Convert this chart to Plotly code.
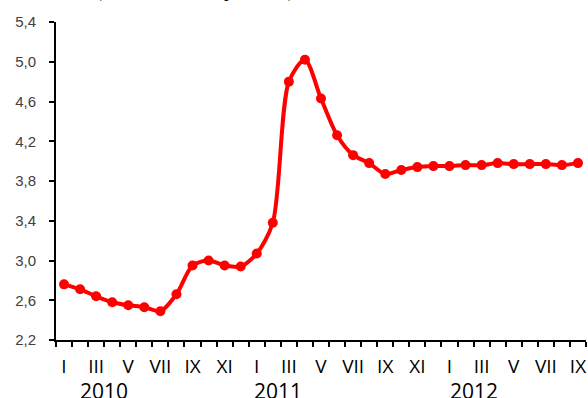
import plotly.graph_objects as go

# monthly values, Jan 2010 .. Sep 2012
roman = ["I", "II", "III", "IV", "V", "VI", "VII", "VIII", "IX", "X", "XI", "XII"]
month_labels = roman * 2 + roman[:9]
values = [2.76, 2.71, 2.64, 2.58, 2.55, 2.53, 2.49, 2.66, 2.95, 3.00, 2.95, 2.94,
          3.07, 3.38, 4.80, 5.02, 4.63, 4.26, 4.06, 3.98, 3.87, 3.91, 3.94, 3.95,
          3.95, 3.96, 3.96, 3.98, 3.97, 3.97, 3.97, 3.96, 3.98]
years = ["2010", "2011", "2012"]
year_pos = [2.5, 13.3, 25.5]
title_text = "(в % к концу года)"

x = list(range(len(values)))
tickvals = x[::2]
ticktext = [month_labels[i] for i in tickvals]
bounds = [i - 0.5 for i in range(len(values) + 1)]

fig = go.Figure()
fig.add_trace(go.Scatter(
    x=x, y=values, mode="lines+markers",
    line=dict(color="#ff0000", width=4, shape="spline", smoothing=0.8),
    marker=dict(color="#ff0000", size=10),
    showlegend=False, hoverinfo="skip"
))

fig.update_layout(
    width=588, height=398,
    margin=dict(l=56, r=2, t=22, b=58, autoexpand=False),
    plot_bgcolor="white", paper_bgcolor="white",
    separators=", ",
    font=dict(family="Liberation Sans", color="#333333"),
)

fig.update_yaxes(
    range=[2.2, 5.4], dtick=0.4, tick0=2.2, tickformat=".1f",
    showgrid=False, zeroline=False, automargin=False,
    showline=True, linecolor="black", linewidth=2,
    ticks="outside", ticklen=5, tickwidth=2, tickcolor="black",
    ticklabelstandoff=10,
    tickfont=dict(family="Liberation Sans", size=15, color="#404040"),
)

fig.update_xaxes(
    range=[-0.5, len(values) - 0.5],
    tickmode="array", tickvals=tickvals, ticktext=ticktext,
    showgrid=False, zeroline=False, automargin=False,
    showline=True, linecolor="black", linewidth=2,
    ticks="outside", ticklen=5, tickcolor="rgba(0,0,0,0)",
    ticklabelstandoff=3,
    tickfont=dict(family="Open Sans", size=19, color="black"),
    minor=dict(tickmode="array", tickvals=bounds, ticks="outside",
               ticklen=5, tickwidth=2, tickcolor="black", showgrid=False),
)

for yr, pos in zip(years, year_pos):
    fig.add_annotation(x=pos, xref="x", y=-0.11, yref="paper", yanchor="top",
                       text=yr, showarrow=False,
                       font=dict(family="Open Sans", size=21, color="black"))

# heading sits mostly above the visible area, only its lowest parts show
fig.add_annotation(x=0.263, xref="paper", xanchor="center",
                   y=1.06, yref="paper", yanchor="bottom",
                   text="<b>" + title_text + "</b>", showarrow=False,
                   font=dict(family="Liberation Serif", size=24, color="black"))

fig.write_html("out.html", config={"displayModeBar": False},
               post_script="document.body.style.margin='0';")
